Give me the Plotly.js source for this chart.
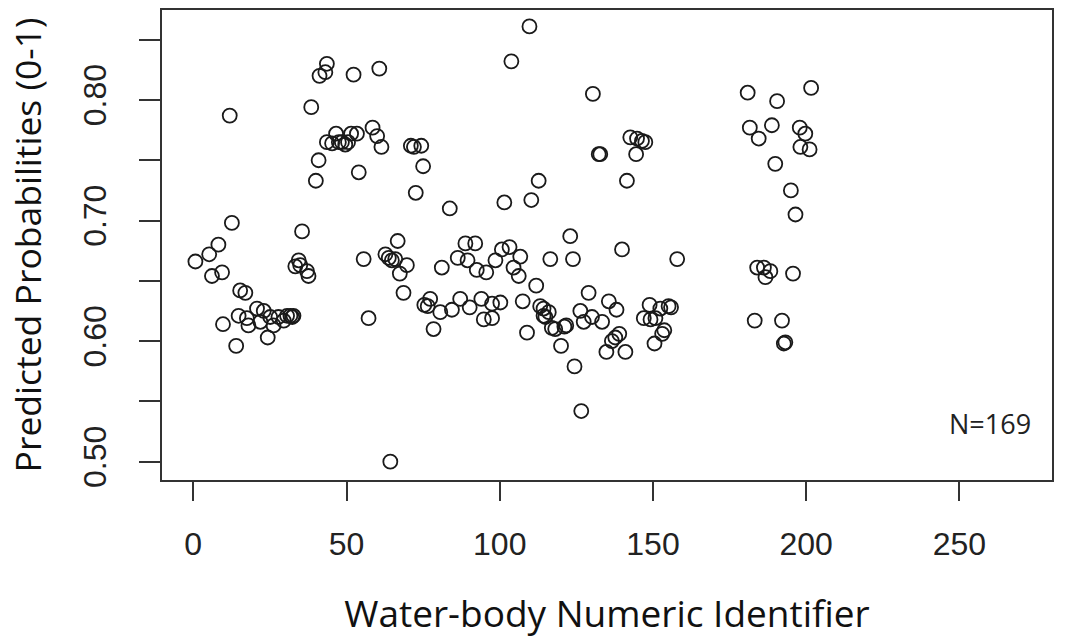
<!DOCTYPE html>
<html>
<head>
<meta charset="utf-8">
<script src="https://cdn.plot.ly/plotly-3.0.1.min.js"></script>
<style>html,body{margin:0;padding:0;background:#fff;}#chart{width:1068px;height:643px;}</style>
</head>
<body>
<div id="chart"></div>
<script>
// Water-body numeric identifiers (x)
const waterBodyId = [
  0.7, 5.2, 6.1, 8.2, 9.4, 9.7, 11.9, 12.6, 14, 14.8,
  15.3, 17, 17.5, 18, 20.8, 21.9, 23, 24.3, 25.1, 26.2,
  27.8, 29.5, 30.6, 31.7, 32.3, 32.7, 33.3, 34.4, 34.9, 35.5,
  37.1, 37.6, 38.5, 40, 40.9, 41.2, 43.1, 43.6, 43.6, 45.3,
  46.6, 47.5, 48.5, 49.6, 50.5, 51.5, 52.3, 53.4, 54, 55.6,
  57.2, 58.5, 60, 60.7, 61.4, 62.7, 63.8, 64.3, 64.8, 65.9,
  66.7, 67.4, 68.6, 69.7, 71, 72, 72.6, 74.4, 75, 75.4,
  76.5, 77.3, 78.4, 80.6, 81.1, 83.7, 84.4, 86.3, 87.1, 88.8,
  89.5, 90.2, 92, 92.5, 94, 94.8, 95.6, 97.5, 97.5, 98.6,
  100.2, 100.7, 101.5, 103.2, 103.8, 104.5, 106.2, 106.7, 107.5, 108.9,
  109.7, 110.3, 111.9, 112.7, 113.2, 114.3, 114.3, 114.9, 116, 116.5,
  117, 118.1, 120, 121.1, 121.7, 123, 123.9, 124.4, 126.3, 126.6,
  127.4, 129, 130.1, 130.4, 132.3, 132.8, 133.4, 134.8, 135.6, 136.6,
  137.7, 138.1, 139, 139.9, 141, 141.5, 142.6, 144.5, 144.8, 146.4,
  147, 147.5, 148.9, 149.2, 150.5, 150.8, 152.4, 153, 153.7, 155.1,
  155.9, 157.9, 180.9, 181.6, 183.2, 184, 184.5, 186.2, 186.7, 188.3,
  188.8, 189.9, 190.5, 192.1, 192.7, 193.2, 195, 195.7, 196.5, 197.9,
  198.1, 199.7, 201.1, 201.6
];
// Predicted probabilities (y)
const predictedProb = [
  0.666, 0.672, 0.654, 0.680, 0.657, 0.614, 0.787, 0.698, 0.596, 0.621,
  0.642, 0.640, 0.619, 0.613, 0.627, 0.616, 0.625, 0.603, 0.620, 0.613,
  0.620, 0.617, 0.621, 0.621, 0.620, 0.621, 0.662, 0.667, 0.663, 0.691,
  0.658, 0.654, 0.794, 0.733, 0.750, 0.820, 0.823, 0.830, 0.765, 0.764,
  0.772, 0.765, 0.765, 0.763, 0.765, 0.772, 0.821, 0.772, 0.740, 0.668,
  0.619, 0.777, 0.770, 0.826, 0.761, 0.672, 0.669, 0.500, 0.667, 0.668,
  0.683, 0.656, 0.640, 0.663, 0.762, 0.761, 0.723, 0.762, 0.745, 0.630,
  0.629, 0.635, 0.610, 0.624, 0.661, 0.710, 0.626, 0.669, 0.635, 0.681,
  0.667, 0.628, 0.681, 0.659, 0.635, 0.618, 0.657, 0.631, 0.619, 0.667,
  0.632, 0.676, 0.715, 0.678, 0.832, 0.661, 0.654, 0.670, 0.633, 0.607,
  0.861, 0.717, 0.646, 0.733, 0.629, 0.621, 0.627, 0.620, 0.624, 0.668,
  0.611, 0.610, 0.596, 0.612, 0.613, 0.687, 0.668, 0.579, 0.625, 0.542,
  0.616, 0.640, 0.620, 0.805, 0.755, 0.755, 0.616, 0.591, 0.633, 0.600,
  0.603, 0.626, 0.606, 0.676, 0.591, 0.733, 0.769, 0.755, 0.768, 0.766,
  0.619, 0.765, 0.630, 0.618, 0.598, 0.619, 0.627, 0.606, 0.609, 0.629,
  0.628, 0.668, 0.806, 0.777, 0.617, 0.661, 0.768, 0.661, 0.653, 0.658,
  0.779, 0.747, 0.799, 0.617, 0.598, 0.599, 0.725, 0.656, 0.705, 0.777,
  0.761, 0.772, 0.759, 0.810
];
const xTickVals = [0, 50, 100, 150, 200, 250];
const yTickVals = [0.5, 0.6, 0.7, 0.8];
const yTickText = ["0.50", "0.60", "0.70", "0.80"];
const yMinorTickVals = [0.55, 0.65, 0.75, 0.85];
const sampleLabel = "N=169";

const axisColor = "#333333";
const tickFont = {family: "Liberation Sans, Arial, sans-serif", size: 32, color: "#222"};
const xTitleFont = {family: "Open Sans, sans-serif", size: 37, color: "#111"};
const yTitleFont = {family: "Open Sans, sans-serif", size: 35.5, color: "#111"};

const trace = {
  type: "scatter",
  mode: "markers",
  x: waterBodyId,
  y: predictedProb,
  marker: {symbol: "circle-open", size: 14, color: "#1a1a1a", line: {width: 1.8, color: "#1a1a1a"}},
  hoverinfo: "x+y"
};

const layout = {
  width: 1068, height: 643,
  margin: {l: 162, r: 16, t: 10, b: 163, pad: 0},
  paper_bgcolor: "#fff", plot_bgcolor: "#fff",
  showlegend: false,
  xaxis: {
    range: [-10.2, 280.2], autorange: false,
    tickvals: xTickVals, ticktext: xTickVals.map(String),
    ticks: "outside", ticklen: 19, tickwidth: 2, tickcolor: axisColor,
    showline: true, linecolor: axisColor, linewidth: 2, mirror: true,
    showgrid: false, zeroline: false,
    tickfont: tickFont, ticklabelstandoff: 16,
    title: {text: "Water-body Numeric Identifier", font: xTitleFont, standoff: 40}
  },
  yaxis: {
    range: [0.4848, 0.8746], autorange: false,
    tickvals: yTickVals, ticktext: yTickText, tickangle: -90,
    ticks: "outside", ticklen: 21, tickwidth: 2, tickcolor: axisColor,
    minor: {tickvals: yMinorTickVals, ticks: "outside", ticklen: 21, tickwidth: 2, tickcolor: axisColor, showgrid: false},
    showline: true, linecolor: axisColor, linewidth: 2, mirror: true,
    showgrid: false, zeroline: false,
    tickfont: tickFont, ticklabelstandoff: 20,
    title: {text: "Predicted Probabilities (0-1)", font: yTitleFont, standoff: 25}
  },
  annotations: [{
    x: 260, y: 0.5315, xref: "x", yref: "y", text: sampleLabel, showarrow: false,
    font: {family: "Open Sans, sans-serif", size: 27, color: "#222"}
  }]
};

Plotly.newPlot("chart", [trace], layout, {staticPlot: true, displayModeBar: false});
</script>
</body>
</html>
